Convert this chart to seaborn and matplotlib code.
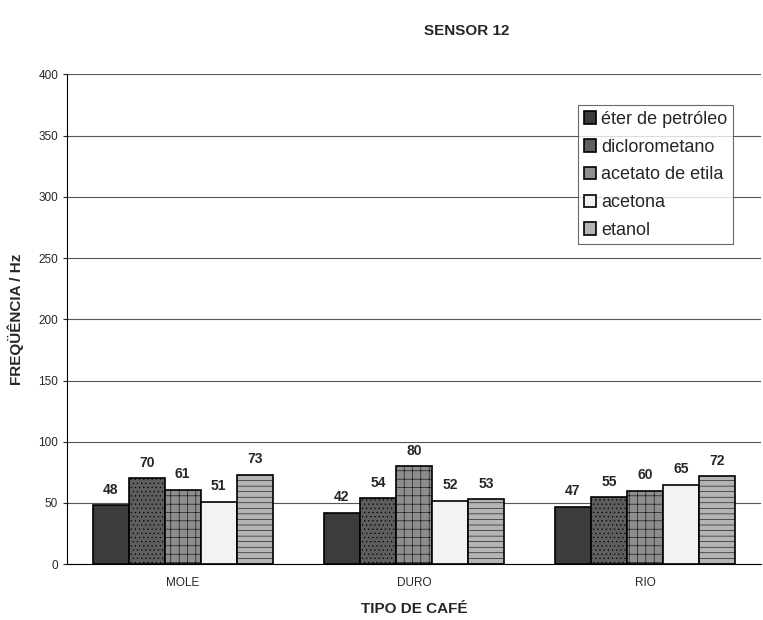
import seaborn as sns
import matplotlib.pyplot as plt
import pandas as pd

# dados
cafes = ["MOLE", "DURO", "RIO"]
solventes = ["éter de petróleo", "diclorometano", "acetato de etila", "acetona", "etanol"]
eter = [48, 42, 47]
dicloro = [70, 54, 55]
acetato = [61, 80, 60]
acetona = [51, 52, 65]
etanol = [73, 53, 72]

valores = [eter, dicloro, acetato, acetona, etanol]
df = pd.DataFrame({
    "cafe": [c for _ in solventes for c in cafes],
    "solvente": [s for s in solventes for _ in cafes],
    "freq": [v for serie in valores for v in serie],
})

cores = ["#3c3c3c", "#5e5e5e", "#8e8e8e", "#f2f2f2", "#b4b4b4"]
hachuras = [None, "....", "++", None, "---"]

sns.set_style("white")
plt.rcParams["font.family"] = ["Liberation Sans", "DejaVu Sans"]
plt.rcParams["hatch.linewidth"] = 0.4

fig = plt.figure(figsize=(7.63, 6.2), dpi=100)
ax = fig.add_axes([0.088, 0.090, 0.909, 0.790])

sns.barplot(data=df, x="cafe", y="freq", hue="solvente", hue_order=solventes,
            order=cafes, palette=cores, width=0.78, edgecolor="black",
            linewidth=1.2, saturation=1, ax=ax)

for cont, h in zip(ax.containers, hachuras):
    for barra in cont:
        if h:
            barra.set_hatch(h)
    ax.bar_label(cont, padding=6, fontsize=10, fontweight="bold")

ax.set_ylim(0, 400)
ax.set_yticks(range(0, 401, 50))
ax.yaxis.grid(True, color="#555555", linewidth=0.8)
ax.set_axisbelow(True)
ax.tick_params(axis="y", labelsize=8.5, length=3, left=True)
ax.tick_params(axis="x", labelsize=8.5, bottom=False, pad=6)
ax.spines["top"].set_visible(False)
ax.spines["right"].set_visible(False)
ax.spines["left"].set_color("black")
ax.spines["bottom"].set_color("black")
ax.set_xlabel("TIPO DE CAFÉ", fontsize=11, fontweight="bold", labelpad=9)
ax.set_ylabel("FREQÜÊNCIA / Hz", fontsize=11, fontweight="bold", labelpad=10)

leg = ax.legend(loc="upper left", bbox_to_anchor=(0.737, 0.937), frameon=True,
                fontsize=13, handlelength=0.7, handleheight=0.7,
                handletextpad=0.25, labelspacing=0.6, borderpad=0.3,
                borderaxespad=0, fancybox=False, edgecolor="#444444")
leg.get_frame().set_linewidth(0.8)

fig.text(0.612, 0.950, "SENSOR 12", ha="center", va="center",
         fontsize=11, fontweight="bold")

fig.savefig("out.png", dpi=100, facecolor="white")
